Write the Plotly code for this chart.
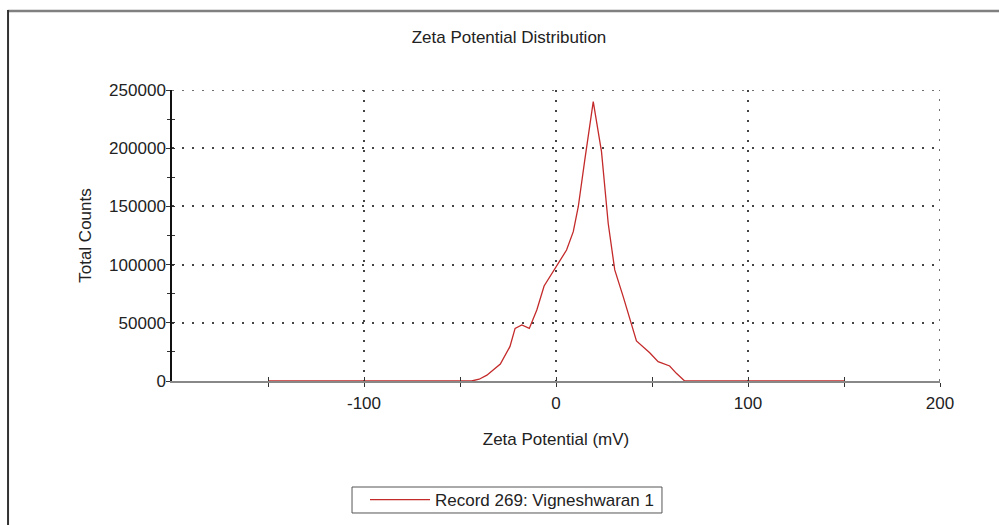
import plotly.graph_objects as go

# Data
zeta_mv = [-150, -44, -40, -36, -29, -24, -21.3, -17.8, -13.9, -10, -6.2, -0.5, 5.5, 9, 11.6,
           15, 19.4, 23.7, 27.2, 30.6, 35, 41.9, 48.8, 53.2, 59.2, 62.7, 67, 150]
total_counts = [0, 0, 1500, 5000, 14600, 29500, 45200, 48100, 45200, 61000, 81600, 96800, 112500,
                128300, 149700, 189900, 240000, 197000, 135300, 95400, 72500, 34400, 24300,
                16600, 12900, 6600, 0, 0]

x_major = [-100, 0, 100, 200]
x_minor = [-150, -50, 50, 150]
y_major = [0, 50000, 100000, 150000, 200000, 250000]
y_minor = [25000, 75000, 125000, 175000, 225000]
x_range = [-200, 200]
y_range = [0, 250000]

series_name = "Record 269: Vigneshwaran 1"
FONT = "Liberation Sans, Arial, sans-serif"

fig = go.Figure()
fig.add_trace(go.Scatter(
    x=zeta_mv, y=total_counts, mode="lines", name=series_name,
    line=dict(color="#c42a2a", width=1.3), hoverinfo="x+y",
))

grid_dash = "2px,8px"
grid_color = "#444"

# gridlines at the range edges (plotly omits grid at the axis ends)
edge_grid = [
    dict(type="line", xref="paper", yref="y", x0=0, x1=1, y0=y_range[1], y1=y_range[1],
         line=dict(color=grid_color, width=1.5, dash=grid_dash), layer="below"),
    dict(type="line", xref="x", yref="paper", x0=x_range[1], x1=x_range[1], y0=0, y1=1,
         line=dict(color=grid_color, width=1.5, dash=grid_dash), layer="below"),
]

frame = [
    dict(type="line", xref="paper", yref="paper", x0=-0.214, x1=1.1, y0=1.2715, y1=1.2715,
         line=dict(color="#808080", width=2.5)),
    dict(type="line", xref="paper", yref="paper", x0=-0.2135, x1=-0.2135, y0=1.275, y1=-0.55,
         line=dict(color="#333", width=2)),
    # legend border
    dict(type="rect", xref="paper", yref="paper", x0=0.2344, x1=0.638, y0=-0.4536, y1=-0.3643,
         line=dict(color="#555", width=1), fillcolor="rgba(0,0,0,0)"),
]

fig.update_layout(
    width=999, height=525,
    margin=dict(l=172, r=59, t=90, b=144),
    paper_bgcolor="white", plot_bgcolor="white",
    font=dict(family=FONT, size=17, color="#222"),
    title=dict(text="Zeta Potential Distribution", x=0.5095, xanchor="center",
               y=0.9295, yanchor="middle", font=dict(size=17, color="#222")),
    showlegend=True,
    legend=dict(orientation="h", xref="container", yref="container",
                x=365 / 999, xanchor="left", y=1 - 482 / 525, yanchor="top",
                borderwidth=0, bgcolor="rgba(0,0,0,0)",
                font=dict(size=17, color="#222"), itemwidth=60),
    xaxis=dict(range=x_range, tickvals=x_major, ticktext=[str(v) for v in x_major],
               ticks="outside", ticklen=4, tickwidth=1, tickcolor="#333",
               ticklabelstandoff=2,
               minor=dict(tickvals=x_minor, ticks="outside", ticklen=4, tickcolor="#333",
                          showgrid=False),
               showline=True, linecolor="#888", linewidth=2,
               showgrid=True, gridcolor=grid_color, gridwidth=1.5, griddash=grid_dash,
               zeroline=False, layer="below traces",
               title=dict(text="Zeta Potential (mV)", standoff=21, font=dict(size=17)),
               fixedrange=True),
    yaxis=dict(range=y_range, tickvals=y_major, ticktext=[str(v) for v in y_major],
               ticks="outside", ticklen=4, tickwidth=1, tickcolor="#333",
               ticklabelstandoff=-3,
               minor=dict(tickvals=y_minor, ticks="outside", ticklen=3, tickcolor="#333",
                          showgrid=False),
               showline=True, linecolor="#111", linewidth=1.5,
               showgrid=True, gridcolor=grid_color, gridwidth=1.5, griddash=grid_dash,
               zeroline=False, layer="below traces",
               title=dict(text="Total Counts", standoff=13, font=dict(size=17)),
               fixedrange=True),
    xaxis2=dict(range=x_range, overlaying="x", anchor="y", matches="x",
                tickvals=x_major + x_minor, ticks="inside", ticklen=4, tickcolor="#333",
                showticklabels=False, showgrid=False, showline=False, zeroline=False),
    yaxis2=dict(range=y_range, overlaying="y", anchor="x", matches="y",
                tickvals=y_major, ticks="inside", ticklen=3, tickcolor="#333",
                minor=dict(tickvals=y_minor, ticks="inside", ticklen=3, tickcolor="#333",
                           showgrid=False),
                showticklabels=False, showgrid=False, showline=False, zeroline=False),
    shapes=edge_grid + frame,
)
fig.add_trace(go.Scatter(x=[None], y=[None], xaxis="x2", yaxis="y2", showlegend=False,
                         hoverinfo="skip"))

fig.write_html("out.html")
